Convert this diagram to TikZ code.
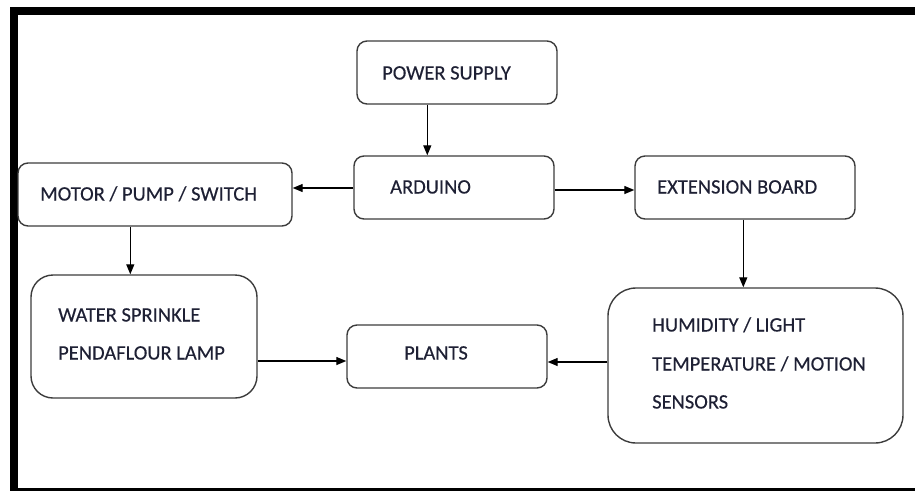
\documentclass[tikz,border=0pt]{standalone}
\usepackage{fontspec}
\setmainfont{Carlito}
\newfontfamily\lblfont{Carlito}[FakeBold=0.3]
\usetikzlibrary{arrows.meta}
\definecolor{txtc}{RGB}{30,32,52}
\definecolor{boxc}{RGB}{60,60,60}
\tikzset{
  box/.style={draw=boxc, line width=1.4pt, rounded corners=#1, inner sep=0pt},
  box/.default=10pt,
  lbl/.style={anchor=base west, inner sep=0pt, text=txtc, font=\lblfont\fontsize{20.5}{24}\selectfont},
  arr/.style={draw=black, line width=1.3pt, -{Triangle[length=10pt,width=8pt]}},
  bar/.style={fill=black, draw=none}
}
\begin{document}
\begin{tikzpicture}[x=1pt,y=-1pt]
\useasboundingbox (0,0) rectangle (915,491);
% frame
\fill[bar] (10,7) rectangle (915,15);
\fill[bar] (10,7) rectangle (18,491);
\fill[bar] (10,488) rectangle (915,491);
% boxes
\node[box, minimum width=200pt, minimum height=63pt] (ps) at (457,72.5) {};
\node[box, minimum width=200pt, minimum height=63pt] (ard) at (454,187.5) {};
\node[box, minimum width=274pt, minimum height=63pt] (mot) at (155,194.5) {};
\node[box, minimum width=220pt, minimum height=63pt] (ext) at (745,187.5) {};
\node[box=22pt, minimum width=226pt, minimum height=123pt] (wat) at (144,336.5) {};
\node[box, minimum width=200pt, minimum height=63pt] (pl) at (447,356.5) {};
\node[box=28pt, minimum width=295pt, minimum height=155pt] (hum) at (755.5,365.5) {};
% labels
\node[lbl] (tps) at (382,79.5) {POWER SUPPLY};
\node[lbl] (tard) at (390,193.5) {ARDUINO};
\node[lbl] (tmot) at (40,200.5) {MOTOR / PUMP / SWITCH};
\node[lbl] (text) at (657,193.5) {EXTENSION BOARD};
\node[lbl] (twa1) at (58,321.5) {WATER SPRINKLE};
\node[lbl] (twa2) at (58,359.5) {PENDAFLOUR LAMP};
\node[lbl] (tpl) at (404,359.5) {PLANTS};
\node[lbl] (thu1) at (652,331.5) {HUMIDITY / LIGHT};
\node[lbl] (thu2) at (652,370.5) {TEMPERATURE / MOTION};
\node[lbl] (thu3) at (652,408.5) {SENSORS};
% connectors
\draw[arr] ([xshift=71pt]ps.south west) -- ([xshift=74pt]ard.north west);
\draw[arr] ([yshift=-0.5pt]ard.west) -- ([yshift=-0.5pt]ard.west -| mot.east);
\draw[arr] ([yshift=-2.5pt]ard.east) -- ([yshift=-2.5pt]ard.east -| ext.west);
\draw[arr] ([xshift=113pt]mot.south west) -- ([xshift=113pt]mot.south west |- wat.north);
\draw[arr] ([xshift=109pt]ext.south west) -- ([xshift=136pt]hum.north west);
\draw[arr] ([yshift=-24.5pt]wat.east) -- ([yshift=-24.5pt]wat.east -| pl.west);
\draw[arr] ([yshift=3.5pt]hum.west) -- ([yshift=3.5pt]hum.west -| pl.east);
\end{tikzpicture}
\end{document}
